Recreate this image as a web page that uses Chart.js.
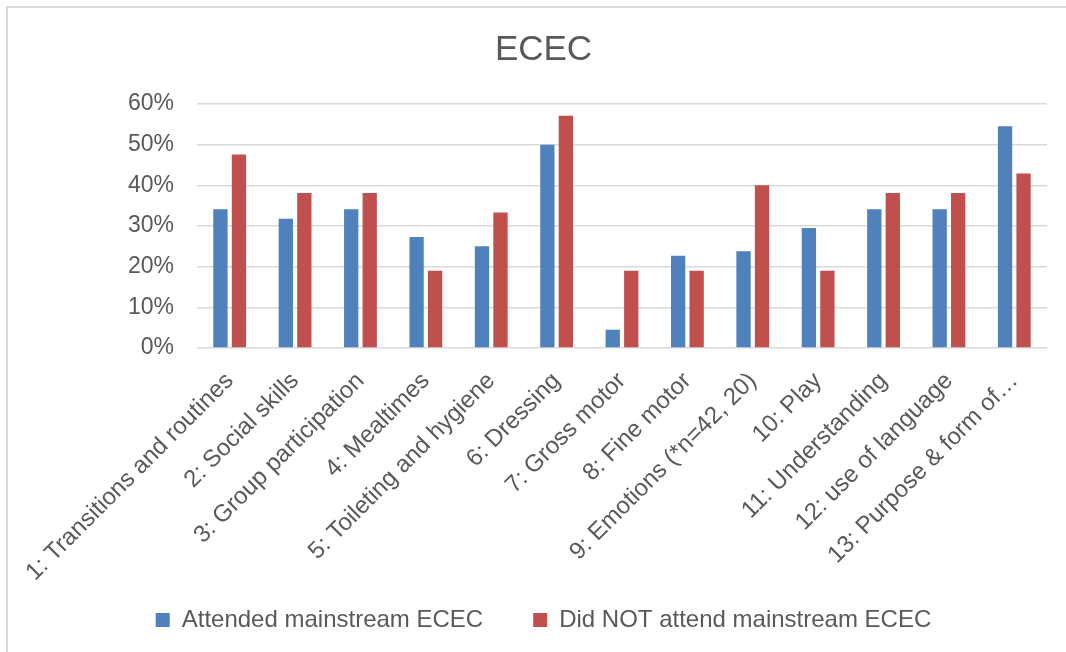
<!DOCTYPE html>
<html>
<head>
<meta charset="utf-8">
<script src="https://cdn.jsdelivr.net/npm/chart.js@4/dist/chart.umd.min.js"></script>
<style>
  html, body { margin: 0; padding: 0; background: #ffffff; }
  #wrap { position: relative; width: 1066px; height: 652px; overflow: hidden; }
  #frame { position: absolute; left: 6px; top: 6px; width: 1080px; height: 700px;
           border-left: 2px solid #d9d9d9; border-top: 2px solid #d9d9d9; box-sizing: border-box; }
  #c { position: absolute; left: 0; top: 0; }
</style>
</head>
<body>
<div id="wrap">
  <div id="frame"></div>
  <canvas id="c" width="1066" height="652"></canvas>
</div>
<script>
// Domains of participation
const categories = [
  '1: Transitions and routines',
  '2: Social skills',
  '3: Group participation',
  '4: Mealtimes',
  '5: Toileting and hygiene',
  '6: Dressing',
  '7: Gross motor',
  '8: Fine motor',
  '9: Emotions (*n=42, 20)',
  '10: Play',
  '11: Understanding',
  '12: use of language',
  '13: Purpose & form of\u2026'
];

// Share of children (%)
const attended =    [34.1, 31.8, 34.1, 27.3, 25.0, 50.0, 4.5, 22.7, 23.8, 29.5, 34.1, 34.1, 54.5];
const notAttended = [47.6, 38.1, 38.1, 19.0, 33.3, 57.1, 19.0, 19.0, 40.0, 19.0, 38.1, 38.1, 42.9];

const yTicks = [0, 10, 20, 30, 40, 50, 60];

const seriesNames = ['Attended mainstream ECEC', 'Did NOT attend mainstream ECEC'];

const textColor = '#595959';
const fontFamily = '"Liberation Sans", Arial, sans-serif';

// Let the slanted category labels run below the axis box instead of being clipped at its edge
const labelRoom = {
  id: 'labelRoom',
  afterLayout(chart) {
    chart.scales.x.bottom = chart.height;
  }
};

new Chart(document.getElementById('c'), {
  type: 'bar',
  data: {
    labels: categories,
    datasets: [
      { label: seriesNames[0], data: attended, backgroundColor: '#4f81bd',
        categoryPercentage: 0.566, barPercentage: 0.773 },
      { label: seriesNames[1], data: notAttended, backgroundColor: '#c0504d',
        categoryPercentage: 0.566, barPercentage: 0.773 }
    ]
  },
  plugins: [labelRoom],
  options: {
    responsive: false,
    animation: false,
    layout: { padding: { left: 40, right: 19, top: 0, bottom: 10 } },
    plugins: {
      title: {
        display: true,
        text: 'ECEC',
        color: textColor,
        font: { family: fontFamily, size: 35, weight: 'normal' },
        padding: { top: 29, bottom: 33 }
      },
      legend: {
        position: 'bottom',
        labels: {
          color: textColor,
          font: { family: fontFamily, size: 24 },
          boxWidth: 14,
          boxHeight: 14,
          padding: 50
        }
      },
      tooltip: { enabled: false }
    },
    scales: {
      x: {
        grid: { display: false },
        border: { display: false },
        ticks: {
          color: textColor,
          font: { family: fontFamily, size: 24 },
          maxRotation: 45,
          minRotation: 45,
          autoSkip: false,
          padding: 11
        },
        afterFit: (scale) => { scale.height = 210; }
      },
      y: {
        min: 0,
        max: 60,
        grid: { color: '#d9d9d9', lineWidth: 1.5, drawTicks: false },
        border: { display: false },
        afterBuildTicks: (scale) => { scale.ticks = yTicks.map(v => ({ value: v })); },
        ticks: {
          color: textColor,
          font: { family: fontFamily, size: 23 },
          padding: 23,
          callback: (v) => v + '%'
        },
        afterFit: (scale) => { scale.width = 157; }
      }
    }
  }
});
</script>
</body>
</html>
